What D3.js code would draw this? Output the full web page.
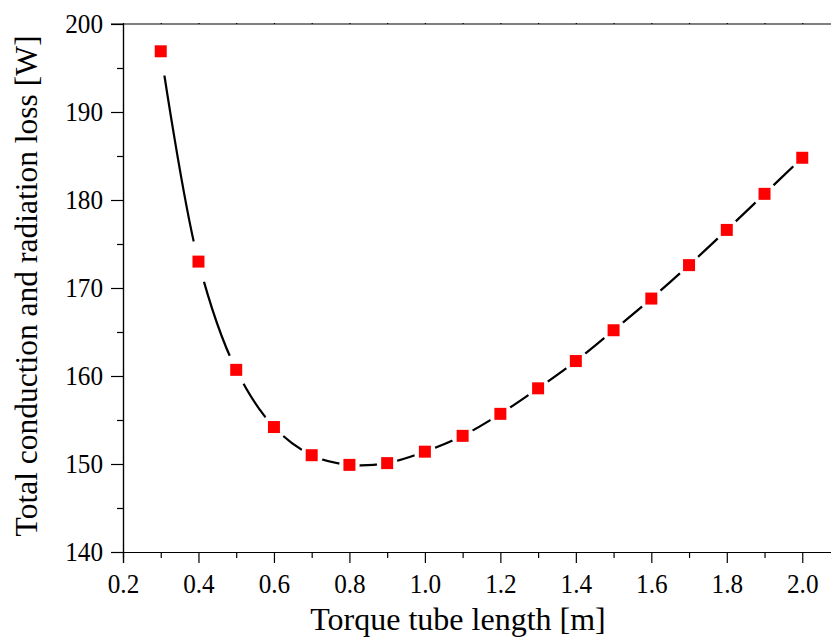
<!DOCTYPE html>
<html>
<head>
<meta charset="utf-8">
<script src="https://cdn.jsdelivr.net/npm/d3@7"></script>
<style>
  body { margin: 0; background: #fff; }
  svg { display: block; }
  svg text { font-family: "Liberation Serif", "Times New Roman", serif; }
</style>
</head>
<body>
<svg></svg>
<script>
const width = 831;
const height = 639;
const margin = { top: 24, right: -9, bottom: 87, left: 123 };

// torque tube length [m]
const lengths = [0.3, 0.4, 0.5, 0.6, 0.7, 0.8, 0.9, 1.0, 1.1, 1.2, 1.3, 1.4, 1.5, 1.6, 1.7, 1.8, 1.9, 2.0];
// total conduction + radiation loss [W]
const losses = [196.9, 173.0, 160.7, 154.2, 151.0, 149.9, 150.1, 151.4, 153.2, 155.7, 158.6, 161.7, 165.2, 168.8, 172.6, 176.6, 180.7, 184.8];

const xMajor = [0.2, 0.4, 0.6, 0.8, 1.0, 1.2, 1.4, 1.6, 1.8, 2.0];
const xMinor = [0.3, 0.5, 0.7, 0.9, 1.1, 1.3, 1.5, 1.7, 1.9, 2.1];
const yMajor = [140, 150, 160, 170, 180, 190, 200];
const yMinor = [145, 155, 165, 175, 185, 195];

const serif = '"Liberation Serif", "Times New Roman", serif';
const squeeze = 0.9; // tick digits in the original are a bit narrow

const svg = d3.select("svg")
  .attr("width", width)
  .attr("height", height);

const x = d3.scaleLinear()
  .domain([0.2, 2.1])
  .range([margin.left, width - margin.right]);

const y = d3.scaleLinear()
  .domain([140, 200])
  .range([height - margin.bottom, margin.top]);

const data = lengths.map((d, i) => ({ x: d, y: losses[i] }));

// mask to leave a gap in the line round each symbol (bigger where the curve is steep)
const mask = svg.append("defs").append("mask").attr("id", "gap");
mask.append("rect").attr("width", width).attr("height", height).attr("fill", "#fff");
mask.selectAll("circle")
  .data(data)
  .join("circle")
  .attr("cx", d => x(d.x))
  .attr("cy", d => y(d.y))
  .attr("r", (d, i) => {
    const a = data[Math.max(0, i - 1)], b = data[Math.min(data.length - 1, i + 1)];
    const slope = Math.abs((y(b.y) - y(a.y)) / (x(b.x) - x(a.x)));
    return 10 + 2.6 * slope;
  })
  .attr("fill", "#000");

// fitted curve
const line = d3.line()
  .x(d => x(d.x))
  .y(d => y(d.y))
  .curve(d3.curveCatmullRom.alpha(0.5));

svg.append("path")
  .datum(data)
  .attr("d", line)
  .attr("fill", "none")
  .attr("stroke", "#000")
  .attr("stroke-width", 2.2)
  .attr("mask", "url(#gap)");

// symbols
svg.selectAll(".pt")
  .data(data)
  .join("path")
  .attr("class", "pt")
  .attr("transform", d => `translate(${x(d.x)},${y(d.y)})`)
  .attr("d", d3.symbol(d3.symbolSquare, 12 * 12))
  .attr("fill", "#ff0000");

// Ejes
const axisStyle = g => {
  g.attr("font-family", serif);
  g.select(".domain").attr("stroke", "#000").attr("stroke-width", 1.2);
  g.selectAll(".tick line").attr("stroke", "#000").attr("stroke-width", 1.2);
};

// minor ticks first
svg.append("g")
  .attr("transform", `translate(0,${y(140)})`)
  .call(d3.axisBottom(x).tickValues(xMinor).tickSize(6).tickFormat(""))
  .call(axisStyle);

svg.append("g")
  .attr("transform", `translate(${margin.left},0)`)
  .call(d3.axisLeft(y).tickValues(yMinor).tickSize(6).tickFormat(""))
  .call(axisStyle);

const xAxis = svg.append("g")
  .attr("transform", `translate(0,${y(140)})`)
  .call(d3.axisBottom(x).tickValues(xMajor).tickSize(11).tickPadding(10).tickFormat(d3.format(".1f")))
  .call(axisStyle);

xAxis.selectAll(".tick text")
  .attr("fill", "#000")
  .style("font-family", serif)
  .style("font-size", "28px")
  .attr("transform", `scale(${squeeze},1)`);

const yAxis = svg.append("g")
  .attr("transform", `translate(${margin.left},0)`)
  .call(d3.axisLeft(y).tickValues(yMajor).tickSize(12).tickPadding(8).tickFormat(d3.format("d")))
  .call(axisStyle);

yAxis.selectAll(".tick text")
  .attr("fill", "#000")
  .style("font-family", serif)
  .style("font-size", "28px")
  .attr("x", -20 / squeeze)
  .attr("transform", `scale(${squeeze},1)`);

// top frame
svg.append("g")
  .attr("transform", `translate(0,${margin.top})`)
  .call(d3.axisTop(x).tickValues(xMajor.concat(xMinor)).tickSize(1).tickFormat(""))
  .call(axisStyle)
  .select(".domain").attr("d", `M${margin.left - 12},0H${width}`);

// Etiquetas
svg.append("text")
  .attr("transform", "translate(458,630)")
  .attr("text-anchor", "middle")
  .style("font-family", serif)
  .style("font-size", "32px")
  .attr("fill", "#000")
  .text("Torque tube length [m]");

svg.append("text")
  .attr("transform", "translate(37,286) rotate(-90)")
  .attr("text-anchor", "middle")
  .style("font-family", serif)
  .style("font-size", "31.5px")
  .attr("fill", "#000")
  .text("Total conduction and radiation loss [W]");
</script>
</body>
</html>
